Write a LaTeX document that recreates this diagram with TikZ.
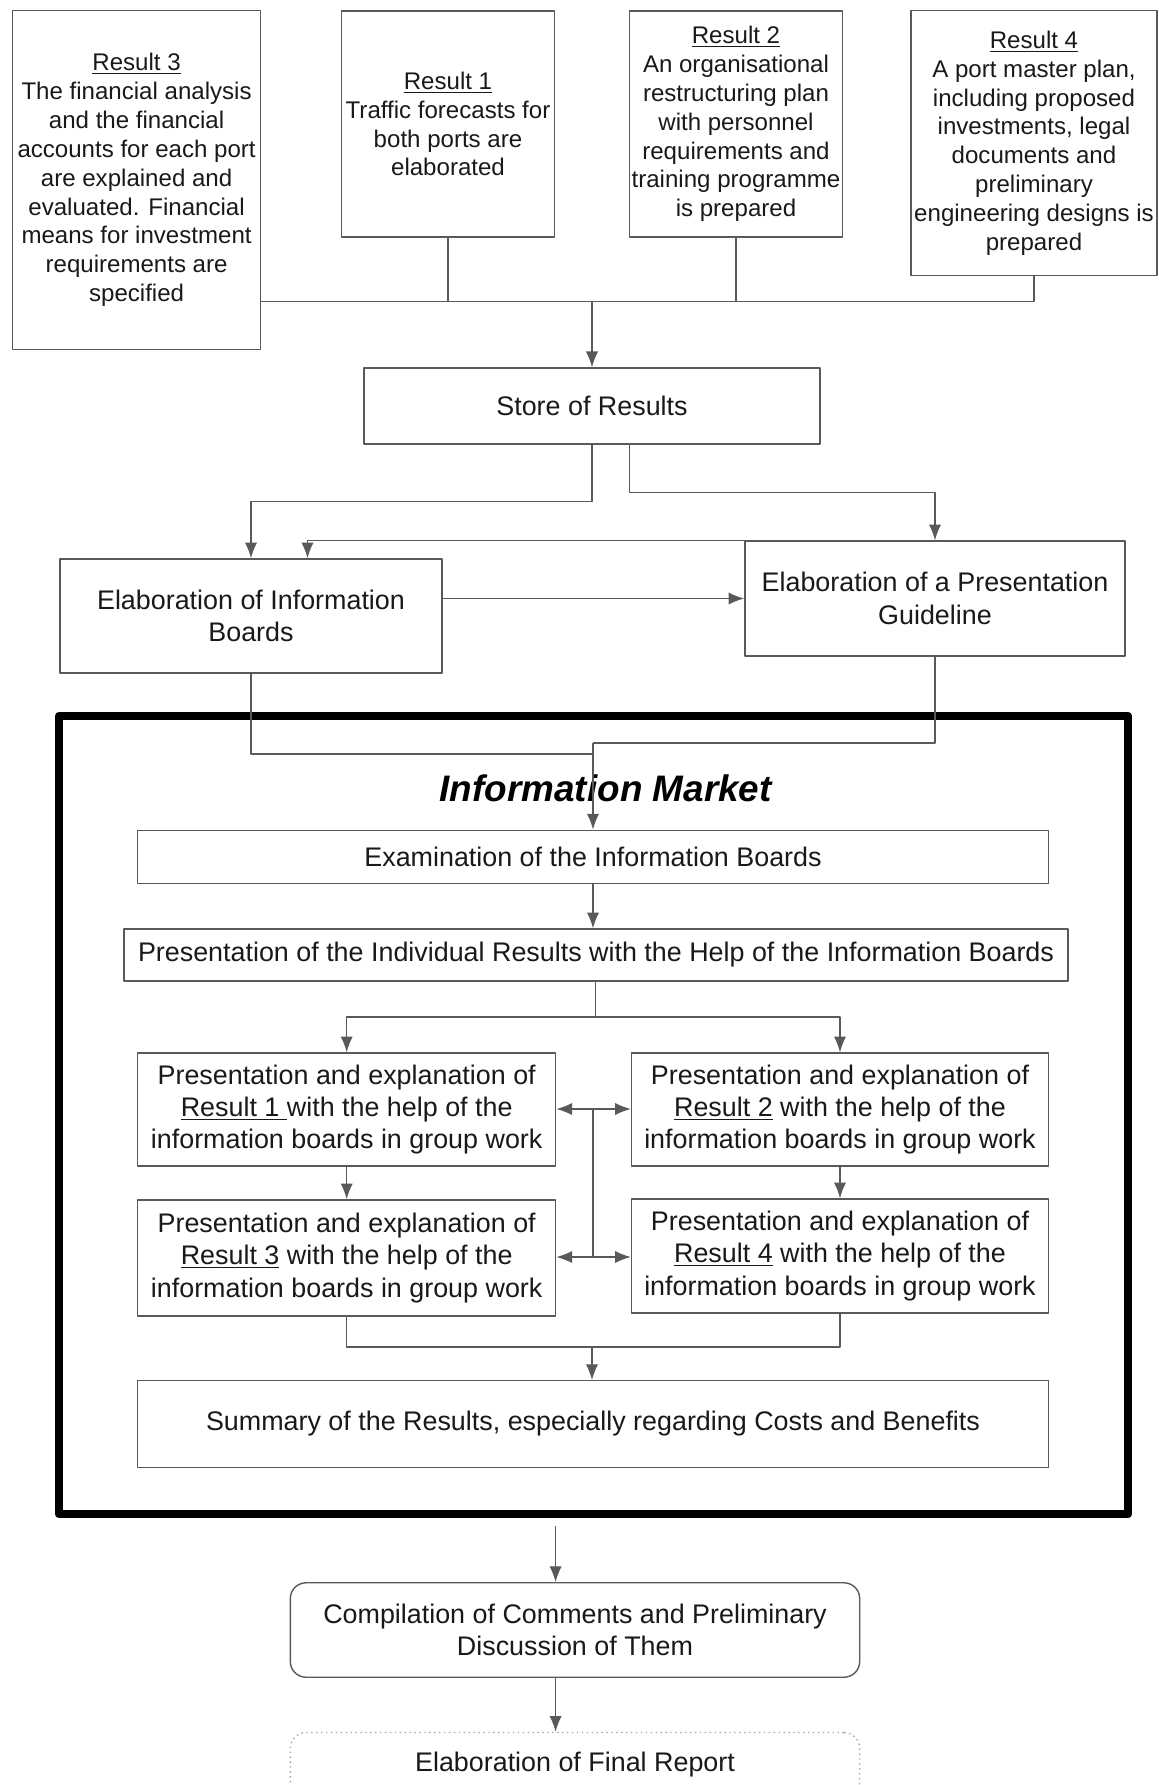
\documentclass[tikz,border=0pt]{standalone}
\usepackage{fontspec}
\setmainfont{Liberation Sans}
\usetikzlibrary{arrows.meta}

\begin{document}
\begin{tikzpicture}[x=0.02cm, y=-0.02cm, font=\fontsize{15.3pt}{18.4pt}\selectfont, line join=round, >={Latex[length=9pt,width=7pt]},
  box/.style={draw=black!65, line width=0.8pt, align=center, inner sep=1pt, text=black!90},
  resbox/.style={box, font=\fontsize{13.7pt}{16.4pt}\selectfont},
  rbox/.style={box, rounded corners=9pt},
  conn/.style={draw=black!65, line width=0.8pt}]
\path[use as bounding box, clip] (0,0) rectangle (1159,1785);
% the four results
\node[resbox, minimum width=4.96cm, minimum height=6.77cm] (r3) at (136.6,180) {\underline{Result 3}\\The financial analysis\\and the financial\\accounts for each port\\are explained and\\evaluated. Financial\\means for investment\\requirements are\\specified};
\node[resbox, minimum width=4.26cm, minimum height=4.52cm] (r1) at (448,124) {\underline{Result 1}\\Traffic forecasts for\\both ports are\\elaborated};
\node[resbox, minimum width=4.26cm, minimum height=4.52cm] (r2) at (736,124) {\underline{Result 2}\\An organisational\\restructuring plan\\with personnel\\requirements and\\training programme\\is prepared};
\node[resbox, minimum width=4.92cm, minimum height=5.29cm] (r4) at (1034,143) {\underline{Result 4}\\A port master plan,\\including proposed\\investments, legal\\documents and\\preliminary\\engineering designs is\\prepared};
\coordinate (j1) at (592,301.7);
\draw[conn] (r3.east |- j1) -- (r4.south |- j1) -- (r4.south);
\draw[conn] (r1.south) -- (r1.south |- j1);
\draw[conn] (r2.south) -- (r2.south |- j1);

\node[box, minimum width=9.12cm, minimum height=1.52cm] (store) at (592,406) {Store of Results};
\draw[conn,->] (j1) -- (store.north -| j1);

\node[box, minimum width=7.64cm, minimum height=2.28cm] (ib) at (251,616) {Elaboration of Information\\Boards};
\node[box, minimum width=7.6cm, minimum height=2.3cm] (pg) at (935,598.5) {Elaboration of a Presentation\\Guideline};
\draw[conn,->] (store.south) -- ++(0,57) -| (ib.north);
\draw[conn,->] ([xshift=0.75cm]store.south) -- ++(0,48) -| (pg.north);
\draw[conn,->] (pg.north) -| ([xshift=1.13cm]ib.north);
\draw[conn,->] (ib.east |- pg.west) -- (pg.west);

% information market
\node[draw, line width=5pt, minimum width=21.38cm, minimum height=15.96cm] (market) at (593.5,1115) {};
\coordinate (jm1) at (593,754);
\coordinate (jm2) at (593,743);
\node[font=\fontsize{21pt}{25pt}\selectfont\bfseries\itshape] (title) at (605.7,788) {Information Market};
\draw[conn] (ib.south) |- (jm1);
\draw[conn] (pg.south) |- (jm2);

\node[box, minimum width=18.22cm, minimum height=1.07cm] (exam) at (593,857) {Examination of the Information Boards};
\node[box, minimum width=18.88cm, minimum height=1.04cm] (pres) at (596,955) {Presentation of the Individual Results with the Help of the Information Boards};
\draw[conn,->] (jm2) -- (exam.north -| jm2);
\draw[conn,->] (exam.south -| jm2) -- (pres.north -| jm2);

\node[box, minimum width=8.36cm, minimum height=2.26cm] (p1) at (346.7,1109.5) {Presentation and explanation of\\\underline{Result 1\ }with the help of the\\information boards in group work};
\node[box, minimum width=8.34cm, minimum height=2.26cm] (p2) at (840,1109.5) {Presentation and explanation of\\\underline{Result 2} with the help of the\\information boards in group work};
\node[box, minimum width=8.36cm, minimum height=2.32cm] (p3) at (346.7,1258) {Presentation and explanation of\\\underline{Result 3} with the help of the\\information boards in group work};
\node[box, minimum width=8.34cm, minimum height=2.28cm] (p4) at (840,1256) {Presentation and explanation of\\\underline{Result 4} with the help of the\\information boards in group work};
\coordinate (jp) at (595.5,1017);
\draw[conn] (pres.south -| jp) -- (jp);
\draw[conn,->] (jp) -| (p1.north);
\draw[conn,->] (jp) -| (p2.north);
\draw[conn,->] (p1.south) -- (p3.north);
\draw[conn,->] (p2.south) -- (p4.north);
\coordinate (ja) at (593,1109);
\coordinate (jb) at (593,1257);
\draw[conn] (ja) -- (jb);
\draw[conn,<->] (p1.east |- ja) -- (p2.west |- ja);
\draw[conn,<->] (p3.east |- jb) -- (p4.west |- jb);

\node[box, minimum width=18.22cm, minimum height=1.73cm] (sum) at (593,1424) {Summary of the Results, especially regarding Costs and Benefits};
\coordinate (jc) at (592,1347);
\draw[conn] (p3.south) -- (p3.south |- jc) -- (p4.south |- jc) -- (p4.south);
\draw[conn,->] (jc) -- (sum.north -| jc);

% after the market
\node[rbox, minimum width=11.39cm, minimum height=1.89cm] (comp) at (575,1630) {Compilation of Comments and Preliminary\\Discussion of Them};
\node[rbox, draw=black!35, dotted, minimum width=11.39cm, minimum height=1.3cm] (final) at (575,1765) {Elaboration of Final Report};
\coordinate (jd) at (555.6,1526);
\draw[conn,->] (jd) -- (comp.north -| jd);
\draw[conn,->] (comp.south -| jd) -- (final.north -| jd);
\end{tikzpicture}
\end{document}
